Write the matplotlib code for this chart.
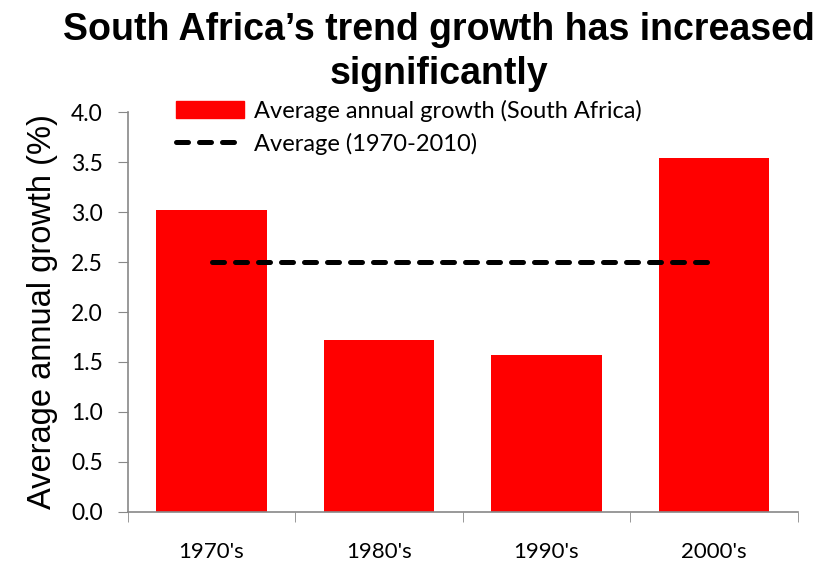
import numpy as np
import matplotlib.pyplot as plt
from matplotlib.patches import Patch
from matplotlib.lines import Line2D

# decade averages of annual growth
decades = ["1970's", "1980's", "1990's", "2000's"]
growth = [3.02, 1.72, 1.57, 3.54]
long_run_avg = 2.5

fig = plt.figure(figsize=(8.19, 5.62), dpi=100)
ax = fig.add_axes([0.156, 0.0895, 0.818, 0.7105])

x = np.arange(len(decades))
ax.bar(x, growth, width=0.66, color='#ff0000', zorder=2)
ax.plot([x[0], x[-1]], [long_run_avg, long_run_avg], color='black', lw=3.6,
        dashes=(2.4, 2.2), dash_capstyle='round', zorder=3)

ax.set_xlim(-0.5, 3.5)
ax.set_ylim(0, 4.0)
ax.set_yticks(np.arange(0, 4.01, 0.5))
ax.set_yticklabels([f'{v:.1f}' for v in np.arange(0, 4.01, 0.5)],
                   fontsize=16.5, family='Lato')
ax.set_xticks(x)
ax.set_xticklabels(decades, fontsize=16, family='Lato')
ax.set_xticks(np.arange(-0.5, 3.6, 1), minor=True)
ax.tick_params(axis='x', which='major', length=0, pad=22)
ax.tick_params(axis='x', which='minor', length=7, color='#888888', direction='out')
ax.tick_params(axis='y', length=7, color='#888888', direction='out', pad=11)

for s in ['top', 'right']:
    ax.spines[s].set_visible(False)
for s in ['left', 'bottom']:
    ax.spines[s].set_color('#888888')
    ax.spines[s].set_linewidth(1.2)

ax.set_ylabel('Average annual growth (%)', fontsize=23.5, family='Liberation Sans',
              labelpad=9)

fig.suptitle("South Africa\u2019s trend growth has increased\nsignificantly",
             fontsize=27, fontweight='bold', family='Liberation Sans',
             x=0.536, y=0.978, linespacing=1.28)

handles = [Patch(color='#ff0000'),
           Line2D([], [], color='black', lw=3.6, dashes=(2.4, 2.2),
                  dash_capstyle='round')]
labels = ['Average annual growth (South Africa)', 'Average (1970-2010)']
ax.legend(handles, labels, loc='upper left', bbox_to_anchor=(0.04, 1.085),
          frameon=False, prop={'family': 'Lato', 'size': 17},
          handlelength=2.9, handleheight=0.75, handletextpad=0.4,
          labelspacing=0.45)

fig.savefig('out.png', dpi=100)
